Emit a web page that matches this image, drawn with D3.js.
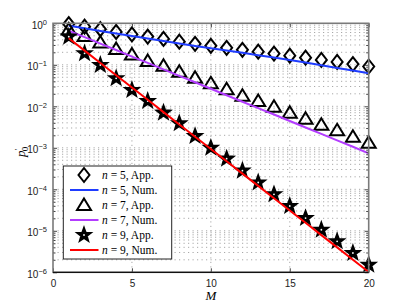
<!DOCTYPE html>
<html>
<head>
<meta charset="utf-8">
<script src="https://cdn.jsdelivr.net/npm/d3@7"></script>
<style>
  body { margin: 0; background: #fff; }
  svg { display: block; }
  .tick text { font-family: "Liberation Sans", Arial, sans-serif; font-size: 10px; fill: #222; }
</style>
</head>
<body>
<svg></svg>
<script>
const M = d3.range(1, 21)

// n = 5
const app5 = [0.96, 0.83, 0.72, 0.62, 0.54, 0.48, 0.42, 0.36, 0.32, 0.287,
              0.257, 0.23, 0.207, 0.187, 0.166, 0.148, 0.131, 0.117, 0.104, 0.091]
const num5 = [0.875, 0.758, 0.656, 0.568, 0.494, 0.43, 0.374, 0.328, 0.285, 0.25,
              0.22, 0.194, 0.169, 0.149, 0.13, 0.113, 0.0978, 0.0841, 0.0725, 0.0624]
// n = 7
const app7 = [0.709, 0.494, 0.345, 0.24, 0.177, 0.1235, 0.0951, 0.0682, 0.0489, 0.0358,
              0.0257, 0.018, 0.0134, 0.00978, 0.00701, 0.00503, 0.0036, 0.00264, 0.00185, 0.00133]
const num7 = [0.663, 0.464, 0.324, 0.227, 0.158, 0.111, 0.0775, 0.0542, 0.0379, 0.0265,
              0.0185, 0.0129, 0.00905, 0.00633, 0.00442, 0.00309, 0.00216, 0.00151, 0.00106, 0.000736]
// n = 9
const app9 = [0.476, 0.189, 0.099, 0.0473, 0.0247, 0.0134, 0.00701, 0.00389, 0.00192, 0.001,
              0.000546, 0.000281, 0.000146, 7.58e-5, 3.96e-5, 2.03e-5, 1.06e-5, 5.59e-6, 2.92e-6, 1.52e-6]
const num9 = [0.435, 0.22, 0.111, 0.0562, 0.0284, 0.01435, 0.00725, 0.00366, 0.00185, 0.000935,
              0.000473, 0.000239, 0.000121, 6.1e-5, 3.08e-5, 1.56e-5, 7.88e-6, 3.98e-6, 2.01e-6, 1.02e-6]

const xTicks = [0, 5, 10, 15, 20]
const yDecades = [-6, -5, -4, -3, -2, -1, 0]
const legendLabels = ["5, App.", "5, Num.", "7, App.", "7, Num.", "9, App.", "9, Num."]

const W = 407, H = 306
const L = 53, R = 368.7, T = 23.3, B = 272.3

const svg = d3.select("svg").attr("width", W).attr("height", H)

const x = d3.scaleLinear().domain([0, 20]).range([L, R])
const y = d3.scaleLog().domain([1e-6, 1]).range([B, T])

const minors = []
yDecades.slice(0, -1).forEach(e => {
  for (let k = 2; k <= 9; k++) minors.push(k * Math.pow(10, e))
})
const majors = yDecades.map(e => Math.pow(10, e))

// grid
const grid = svg.append("g")
grid.selectAll("line.h")
  .data(minors.concat(majors.slice(1, -1)))
  .enter().append("line")
  .attr("x1", L).attr("x2", R)
  .attr("y1", d => y(d)).attr("y2", d => y(d))
  .attr("stroke", "#a8a8a8").attr("stroke-width", 1)
  .attr("stroke-dasharray", "1.2,3.3")
grid.selectAll("line.v")
  .data([5, 10, 15])
  .enter().append("line")
  .attr("y1", T).attr("y2", B)
  .attr("x1", d => x(d)).attr("x2", d => x(d))
  .attr("stroke", "#a8a8a8").attr("stroke-width", 1)
  .attr("stroke-dasharray", "1.2,3.3")

// markers
const diamond = "M0,-7L5.5,0L0,7L-5.5,0Z"
const triangle = "M0,-6.5L7,5L-7,5Z"
function starPath(ro, ri) {
  let p = []
  for (let i = 0; i < 10; i++) {
    let a = -Math.PI / 2 + i * Math.PI / 5
    let r = i % 2 ? ri : ro
    p.push([r * Math.cos(a), r * Math.sin(a)])
  }
  return "M" + p.map(q => q[0].toFixed(2) + "," + q[1].toFixed(2)).join("L") + "Z"
}
const star = starPath(7, 2.9)

const line = d3.line().x((d, i) => x(M[i])).y(d => y(d))

const series = [
  { vals: app5, type: "marker", path: diamond, fill: "none" },
  { vals: num5, type: "line", color: "#1f3cff" },
  { vals: app7, type: "marker", path: triangle, fill: "none" },
  { vals: num7, type: "line", color: "#b33cff" },
  { vals: app9, type: "marker", path: star, fill: "#000" },
  { vals: num9, type: "line", color: "#ff0000" }
]

const plot = svg.append("g")
series.forEach(s => {
  if (s.type === "line") {
    plot.append("path")
      .datum(s.vals)
      .attr("d", line)
      .attr("fill", "none")
      .attr("stroke", s.color)
      .attr("stroke-width", 2)
  } else {
    const g = plot.selectAll(null)
      .data(s.vals)
      .enter().append("g")
      .attr("transform", (d, i) => "translate(" + x(M[i]) + "," + y(d) + ")")
    g.append("path")
      .attr("d", s.path)
      .attr("fill", s.fill)
      .attr("stroke", "#000")
      .attr("stroke-width", 2)
      .attr("stroke-linejoin", "miter")
    if (s.fill !== "none") g.append("circle").attr("r", 0.9).attr("fill", "#fff")
  }
})

// axes
const xAxis = d3.axisBottom(x).tickValues(xTicks).tickSizeInner(-4).tickSizeOuter(0).tickPadding(8)
const gx = svg.append("g").attr("transform", "translate(0," + B + ")").call(xAxis)
gx.select(".domain").remove()
gx.selectAll(".tick line").attr("stroke", "#444")

const xTop = d3.axisTop(x).tickValues(xTicks).tickSizeInner(-4).tickSizeOuter(0).tickFormat("")
svg.append("g").attr("transform", "translate(0," + T + ")").call(xTop)
  .call(g => g.select(".domain").remove())
  .selectAll(".tick line").attr("stroke", "#444")

const yAxis = d3.axisLeft(y).tickValues(majors).tickSizeInner(-4).tickSizeOuter(0).tickPadding(6).tickFormat("")
const gy = svg.append("g").attr("transform", "translate(" + L + ",0)").call(yAxis)
gy.select(".domain").remove()
gy.selectAll(".tick line").attr("stroke", "#444")
gy.selectAll(".tick text").each(function(d) {
  const t = d3.select(this).attr("x", -6).attr("dy", "0.5em")
  t.append("tspan").text("10")
  t.append("tspan").attr("dy", "-0.55em").attr("font-size", "7.5px").text(Math.round(Math.log10(d)) === 0 ? "0" : "\u2212" + (-Math.round(Math.log10(d))))
})

const yMinL = d3.axisLeft(y).tickValues(minors).tickSizeInner(-2.5).tickSizeOuter(0).tickFormat("")
svg.append("g").attr("transform", "translate(" + L + ",0)").call(yMinL)
  .call(g => g.select(".domain").remove())
  .selectAll(".tick line").attr("stroke", "#444")
const yR = d3.axisRight(y).tickValues(majors).tickSizeInner(-4).tickSizeOuter(0).tickFormat("")
svg.append("g").attr("transform", "translate(" + R + ",0)").call(yR)
  .call(g => g.select(".domain").remove())
  .selectAll(".tick line").attr("stroke", "#444")
const yMinR = d3.axisRight(y).tickValues(minors).tickSizeInner(-2.5).tickSizeOuter(0).tickFormat("")
svg.append("g").attr("transform", "translate(" + R + ",0)").call(yMinR)
  .call(g => g.select(".domain").remove())
  .selectAll(".tick line").attr("stroke", "#444")

// frame
svg.append("rect")
  .attr("x", L).attr("y", T).attr("width", R - L).attr("height", B - T)
  .attr("fill", "none").attr("stroke", "#7a7a7a").attr("stroke-width", 1.6)
svg.append("line")
  .attr("x1", L).attr("x2", R).attr("y1", B).attr("y2", B)
  .attr("stroke", "#111").attr("stroke-width", 1.2)

// axis labels
svg.append("text")
  .attr("x", (L + R) / 2).attr("y", 300)
  .attr("text-anchor", "middle")
  .style("font-family", "'Liberation Serif', 'DejaVu Serif', serif")
  .style("font-style", "italic").style("font-size", "13px")
  .text("M")

const yl = svg.append("text")
  .attr("transform", "translate(25," + ((T + B) / 2 + 4) + ") rotate(-90)")
  .attr("text-anchor", "middle")
  .style("font-family", "'Liberation Serif', 'DejaVu Serif', serif")
  .style("font-size", "13px")
yl.append("tspan").style("font-style", "italic").text("p")
yl.append("tspan").attr("dy", "-0.45em").attr("font-size", "9px").text("\u2032")
yl.append("tspan").attr("dx", "-0.3em").attr("dy", "0.8em").attr("font-size", "9px").text("0")

// legend
const lg = svg.append("g")
lg.append("rect")
  .attr("x", 63.3).attr("y", 166).attr("width", 108.4).attr("height", 93)
  .attr("fill", "#fff").attr("stroke", "#222").attr("stroke-width", 1)

series.forEach((s, i) => {
  const ry = 175 + i * 15
  if (s.type === "line") {
    lg.append("line")
      .attr("x1", 70).attr("x2", 98.5).attr("y1", ry).attr("y2", ry)
      .attr("stroke", s.color).attr("stroke-width", 2)
  } else {
    const g = lg.append("g").attr("transform", "translate(84," + ry + ")")
    g.append("path")
      .attr("d", s.path)
      .attr("fill", s.fill).attr("stroke", "#000").attr("stroke-width", 2)
    if (s.fill !== "none") g.append("circle").attr("r", 0.9).attr("fill", "#fff")
  }
  const t = lg.append("text")
    .attr("x", 102).attr("y", ry + 4)
    .style("font-family", "'Liberation Serif', 'DejaVu Serif', serif")
    .style("font-size", "11.5px")
  t.append("tspan").style("font-style", "italic").text("n")
  t.append("tspan").text(" = " + legendLabels[i])
})
</script>
</body>
</html>
